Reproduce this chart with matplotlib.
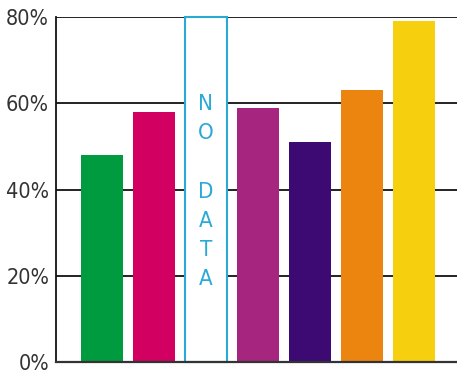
import matplotlib.pyplot as plt

names = ["A", "B", "C", "D", "E", "F", "G"]
values = [48, 58, None, 59, 51, 63, 79]
colors = ["#009b3e", "#d20060", "#2aa9d6", "#a6267f", "#3c0a72", "#ec8510", "#f6d00f"]
yticks = [0, 20, 40, 60, 80]
ytick_labels = ["0%", "20%", "40%", "60%", "80%"]

plt.rcParams["font.family"] = ["DejaVu Sans"]
plt.rcParams["font.stretch"] = "condensed"

fig = plt.figure(figsize=(4.57, 3.73), dpi=100)
ax = fig.add_axes([56 / 457, 11 / 373, 1 - 56 / 457, 345 / 373])

for y in yticks[1:]:
    ax.axhline(y, color="#111111", lw=1.3, zorder=0)

for i, (v, c) in enumerate(zip(values, colors)):
    if v is None:
        ax.bar(i, 80, width=0.81, facecolor="white", edgecolor=c, lw=1.5, zorder=2, clip_on=False)
        ax.text(i, 39.5, "N\nO\n\nD\nA\nT\nA", ha="center", va="center", color=c,
                fontsize=16, linespacing=1.58, zorder=3, fontstretch="condensed")
    else:
        ax.bar(i, v, width=0.81, color=c, zorder=2)

ax.set_xlim(-0.885, 6.83)
ax.set_ylim(0, 80)
ax.set_xticks([])
ax.set_yticks(yticks)
ax.set_yticklabels(ytick_labels, fontsize=15.5, color="#333333", fontstretch="condensed")
ax.tick_params(axis="y", length=0, pad=5)
for s in ["top", "right"]:
    ax.spines[s].set_visible(False)
ax.spines["left"].set_color("#111111")
ax.spines["left"].set_linewidth(1.3)
ax.spines["bottom"].set_color("#333333")
ax.spines["bottom"].set_linewidth(1.6)

fig.savefig("out.png", dpi=100)
